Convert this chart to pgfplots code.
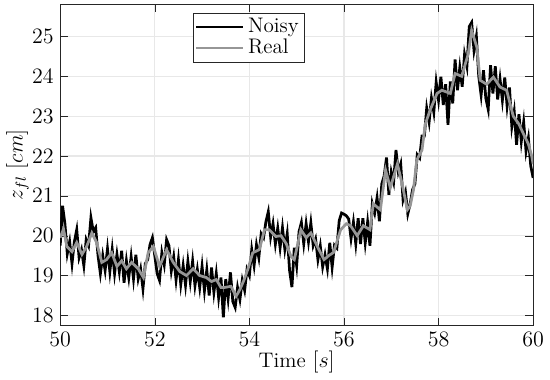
\documentclass[border=0pt]{standalone}
\usepackage{pgfplots}
\pgfplotsset{compat=1.18}
\definecolor{realgray}{RGB}{150,150,150}
\begin{document}
\begin{tikzpicture}
\begin{axis}[
  scale only axis,
  width=258pt, height=175pt,
  xmin=50, xmax=60, ymin=17.75, ymax=25.8,
  xtick={50,52,54,56,58,60},
  ytick={18,19,20,21,22,23,24,25},
  grid=major,
  major grid style={line width=0.6pt, draw=black!9},
  axis line style={draw=black!85},
  tick style={draw=black!85},
  tick align=inside,
  ticklabel style={font=\fontsize{11.5}{13}\selectfont},
  label style={font=\fontsize{11.5}{13}\selectfont},
  xlabel={Time $[s]$},
  ylabel={$z_{fl}$ $[cm]$},
  xlabel style={yshift=4pt},
  ylabel style={yshift=-5pt},
  legend style={at={(0.28,0.975)}, anchor=north west, draw=black!85, inner sep=1pt, row sep=-2pt, font=\fontsize{11.5}{13}\selectfont},
  legend cell align=left,
  legend image code/.code={\draw[#1] (0cm,0cm) -- (0.9cm,0cm);},
]
\addplot[black, line width=1.5pt] coordinates {
(50.00,19.75) (50.05,20.75) (50.10,20.3) (50.15,19.55) (50.20,19.85) (50.25,19.3) (50.30,19.85) (50.35,20.15) (50.40,19.45) (50.45,19.65)
(50.50,19.25) (50.55,19.9) (50.60,19.75) (50.65,20.45) (50.70,20.1) (50.75,20.2) (50.80,19.5) (50.85,19.05) (50.90,19.5) (50.95,19.13)
(51.00,19.67) (51.05,19.1) (51.10,19.65) (51.15,19.05) (51.20,19.53) (51.25,19.1) (51.30,19.62) (51.35,18.82) (51.40,19.37) (51.45,18.95)
(51.50,19.47) (51.55,18.92) (51.60,19.52) (51.65,18.92) (51.70,19.17) (51.75,18.67) (51.80,19.3) (51.85,19.4) (51.90,19.78) (51.95,19.95)
(52.00,19.5) (52.05,19.05) (52.10,18.88) (52.15,19.57) (52.20,19.27) (52.25,19.9) (52.30,19.75) (52.35,19.12) (52.40,19.47) (52.45,18.89)
(52.50,19.4) (52.55,18.78) (52.60,19.25) (52.65,18.76) (52.70,19.35) (52.75,18.85) (52.80,19.36) (52.85,18.75) (52.90,19.15) (52.95,18.7)
(53.00,19.23) (53.05,18.62) (53.10,19.14) (53.15,18.5) (53.20,19.2) (53.25,18.58) (53.30,19.05) (53.35,18.45) (53.40,18.95) (53.45,17.95)
(53.50,18.91) (53.55,18.42) (53.60,19.08) (53.65,18.35) (53.70,18.2) (53.75,18.7) (53.80,18.4) (53.85,18.88) (53.90,18.63) (53.95,19.15)
(54.00,19.0) (54.05,19.65) (54.10,19.25) (54.15,19.77) (54.20,19.45) (54.25,20.05) (54.30,19.95) (54.35,20.35) (54.40,20.6) (54.45,19.97)
(54.50,20.3) (54.55,19.79) (54.60,20.19) (54.65,19.7) (54.70,20.2) (54.75,19.66) (54.80,20.05) (54.85,19.13) (54.90,18.71) (54.95,19.7)
(55.00,19.25) (55.05,20.1) (55.10,20.33) (55.15,19.8) (55.20,20.3) (55.25,19.85) (55.30,20.32) (55.35,19.75) (55.40,19.92) (55.45,19.4)
(55.50,19.74) (55.55,19.22) (55.60,19.52) (55.65,19.17) (55.70,19.82) (55.75,19.21) (55.80,19.76) (55.85,19.69) (55.90,20.38) (55.95,20.57)
(56.00,20.54) (56.05,20.5) (56.10,20.42) (56.15,19.93) (56.20,20.34) (56.25,19.8) (56.30,20.44) (56.35,19.79) (56.40,20.44) (56.45,19.82)
(56.50,20.34) (56.55,19.75) (56.60,20.8) (56.65,20.57) (56.70,20.95) (56.75,20.36) (56.80,21.3) (56.85,21.5) (56.90,21.96) (56.95,21.03)
(57.00,21.6) (57.05,21.35) (57.10,22.15) (57.15,21.6) (57.20,21.8) (57.25,20.9) (57.30,21.1) (57.35,20.55) (57.40,20.8) (57.45,21.15)
(57.50,21.3) (57.55,22.03) (57.60,21.95) (57.65,22.5) (57.70,22.5) (57.75,23.2) (57.80,22.85) (57.85,23.45) (57.90,23.1) (57.95,23.85)
(58.00,23.4) (58.05,23.99) (58.10,23.28) (58.15,23.8) (58.20,22.78) (58.25,23.87) (58.30,23.32) (58.35,24.42) (58.40,23.65) (58.45,24.22)
(58.50,23.74) (58.55,24.55) (58.60,24.25) (58.65,25.25) (58.70,25.35) (58.75,24.65) (58.80,25.0) (58.85,24.0) (58.90,23.53) (58.95,24.15)
(59.00,23.45) (59.05,23.17) (59.10,24.28) (59.15,23.57) (59.20,24.25) (59.25,23.42) (59.30,23.93) (59.35,23.4) (59.40,23.97) (59.45,23.25)
(59.50,23.72) (59.55,22.74) (59.60,23.12) (59.65,22.28) (59.70,23.05) (59.75,22.37) (59.80,22.85) (59.85,22.12) (59.90,22.45) (59.95,21.75)
(60.00,21.45)
};
\addlegendentry{Noisy}
\addplot[realgray, line width=1.5pt] coordinates {
(50.00,19.95) (50.07,20.17) (50.14,19.73) (50.25,19.60) (50.35,19.83) (50.46,19.53) (50.56,19.73) (50.67,20.07) (50.77,19.83) (50.88,19.33)
(50.98,19.40) (51.09,19.57) (51.20,19.23) (51.30,19.37) (51.40,19.17) (51.51,19.33) (51.65,19.17) (51.76,18.95) (51.86,19.57) (51.97,19.73)
(52.10,19.23) (52.25,19.65) (52.39,19.33) (52.53,19.10) (52.67,19.00) (52.81,19.17) (52.95,19.00) (53.09,18.95) (53.20,18.85) (53.30,18.90)
(53.40,18.70) (53.47,18.70) (53.61,18.73) (53.72,18.48) (53.80,18.65) (53.89,18.90) (53.98,19.20) (54.07,19.57) (54.21,19.65) (54.32,20.15)
(54.42,20.15) (54.56,19.98) (54.67,20.00) (54.78,19.80) (54.88,19.48) (54.95,19.40) (55.09,20.15) (55.20,19.95) (55.30,20.07) (55.45,19.70)
(55.58,19.40) (55.68,19.50) (55.78,19.58) (55.93,20.15) (56.05,20.30) (56.14,20.25) (56.28,20.00) (56.41,20.25) (56.55,20.15) (56.62,20.80)
(56.77,20.65) (56.88,21.65) (56.98,21.20) (57.13,21.80) (57.23,21.30) (57.34,20.65) (57.40,20.75) (57.47,21.15) (57.54,21.90) (57.65,22.15)
(57.72,22.80) (57.82,23.15) (57.97,23.57) (58.07,23.65) (58.25,23.57) (58.35,24.07) (58.49,24.00) (58.63,24.57) (58.70,25.15) (58.81,24.73)
(58.88,23.90) (59.02,23.80) (59.16,23.98) (59.30,23.73) (59.44,23.65) (59.58,23.00) (59.70,22.80) (59.79,22.57) (59.90,22.30) (59.97,22.00)
(60.00,21.80)
};
\addlegendentry{Real}
\end{axis}
\path ([yshift=2.5pt]current axis.north);
\end{tikzpicture}
\end{document}
